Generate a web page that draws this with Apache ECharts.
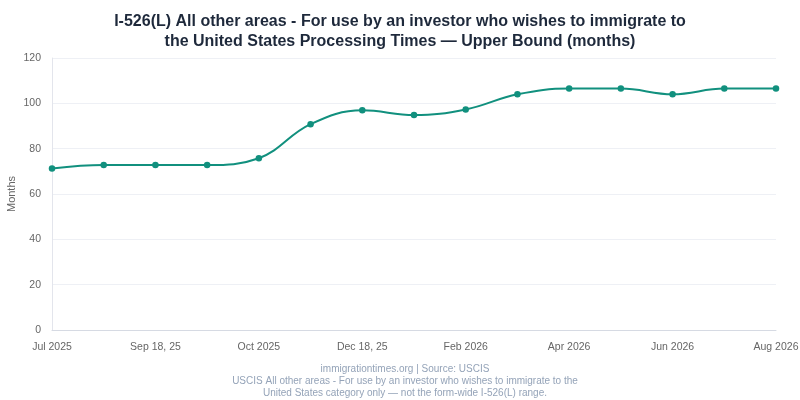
<!DOCTYPE html>
<html lang="en">
<head>
    <meta charset="UTF-8">
    <title>I-526(L) processing times</title>
    <style>
        html, body{
            margin: 0;
            padding: 0;
            background-color: #fff;
        }
        #main{
            width: 800px;
            height: 400px;
        }
    </style>
    <script src="https://cdn.jsdelivr.net/npm/echarts@6/dist/echarts.min.js"></script>
</head>
<body>
<div id="main"></div>
<script type="text/javascript">
    // x categories (only every other one is labelled on the chart)
    var categories = ['Jul 2025', 'Aug 2025', 'Sep 18, 25', 'Sep 2025', 'Oct 2025', 'Nov 2025', 'Dec 18, 25', 'Jan 2026',
        'Feb 2026', 'Mar 2026', 'Apr 2026', 'May 2026', 'Jun 2026', 'Jul 2026', 'Aug 2026'];
    // upper bound, months
    var upperBound = [71.3, 72.8, 72.8, 72.8, 75.8, 90.8, 96.9, 94.8, 97.3, 104, 106.5, 106.5, 104, 106.5, 106.5];
    var yTicks = [0, 20, 40, 60, 80, 100, 120];

    var myChart = echarts.init(document.getElementById('main'));

    var option = {
        animation: false,
        textStyle: {
            fontFamily: 'Liberation Sans'
        },
        title: [{
            text: 'I-526(L) All other areas - For use by an investor who wishes to immigrate to\nthe United States Processing Times \u2014 Upper Bound (months)',
            left: 'center',
            top: 7,
            textStyle: {
                fontSize: 16,
                fontWeight: 'bold',
                color: '#1e293b',
                lineHeight: 20
            }
        }, {
            text: 'immigrationtimes.org | Source: USCIS\nUSCIS All other areas - For use by an investor who wishes to immigrate to the\nUnited States category only \u2014 not the form-wide I-526(L) range.',
            left: 400,
            top: 358,
            textAlign: 'center',
            textStyle: {
                fontSize: 10,
                fontWeight: 'normal',
                color: '#94a3b8',
                lineHeight: 12
            }
        }],
        grid: {
            left: 52,
            right: 24,
            top: 58,
            bottom: 70,
            containLabel: false,
            outerBoundsMode: 'none'
        },
        xAxis: {
            type: 'category',
            boundaryGap: false,
            data: categories,
            axisLine: {lineStyle: {color: '#d6dae3'}},
            axisTick: {show: false},
            axisLabel: {
                interval: 1,
                color: '#666',
                fontSize: 10.5,
                margin: 12
            }
        },
        yAxis: {
            type: 'value',
            min: yTicks[0],
            max: yTicks[yTicks.length - 1],
            interval: 20,
            name: 'Months',
            nameLocation: 'middle',
            nameGap: 35,
            nameMoveOverlap: false,
            nameTextStyle: {color: '#666', fontSize: 11},
            axisLine: {show: true, lineStyle: {color: '#e3e5ec'}},
            axisTick: {show: false},
            axisLabel: {color: '#666', fontSize: 10.5, margin: 11},
            splitLine: {lineStyle: {color: '#eef0f5'}}
        },
        series: [{
            name: 'Upper Bound',
            type: 'line',
            smooth: 0.4,
            data: upperBound,
            symbol: 'circle',
            symbolSize: 6.5,
            lineStyle: {color: '#11907e', width: 2},
            itemStyle: {color: '#11907e'}
        }]
    };

    myChart.setOption(option);
</script>
</body>
</html>
